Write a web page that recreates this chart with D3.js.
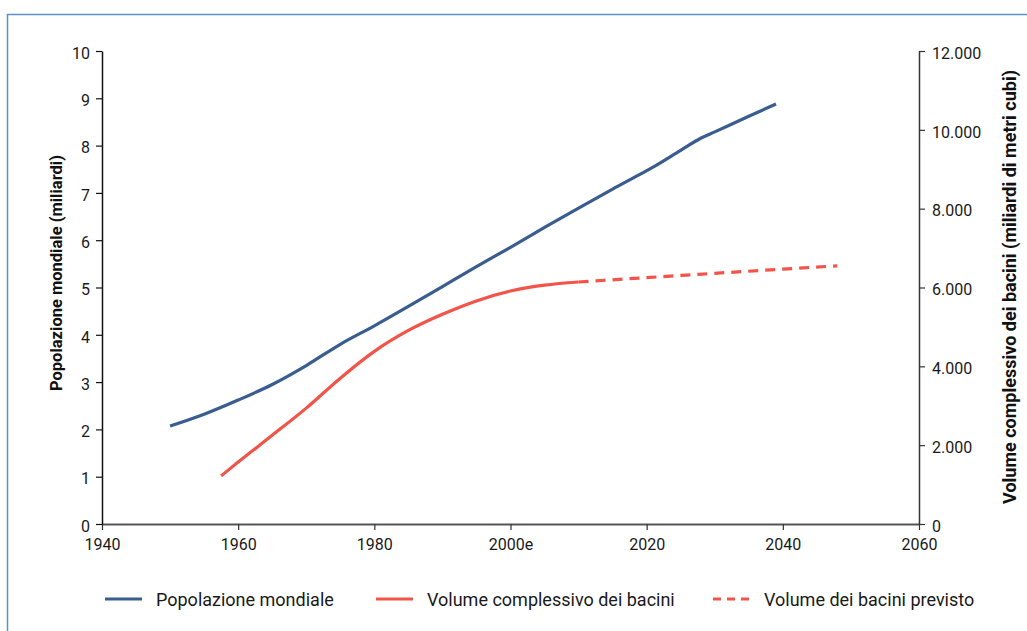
<!DOCTYPE html>
<html><head><meta charset="utf-8">
<script src="https://cdn.jsdelivr.net/npm/d3@7"></script>
<style>
body{margin:0;background:#fff;}
svg{display:block;font-family:Roboto,"Noto Sans",sans-serif;}
</style></head>
<body><svg id="c" width="1027" height="631"></svg>
<script>
const popYears = [1950,1955,1960,1965,1970,1975,1980,1985,1990,1995,2000,2005,2010,2015,2020,2021,2025,2028,2030,2035,2039];
const popValues = [2.07,2.32,2.62,2.95,3.35,3.8,4.19,4.6,5.02,5.44,5.85,6.27,6.68,7.08,7.47,7.55,7.9,8.16,8.29,8.62,8.88];
const volYears = [1957.5,1960,1965,1970,1975,1980,1985,1990,1995,2000,2005,2010];
const volValues = [1220,1570,2250,2940,3700,4380,4910,5320,5660,5910,6060,6140];
const forecastYears = [2010,2030,2048];
const forecastValues = [6140,6360,6550];
const xTicks = [1940,1960,1980,2000,2020,2040,2060];
const xTickLabels = ["1940","1960","1980","2000e","2020","2040","2060"];
const leftTicks = [0,1,2,3,4,5,6,7,8,9,10];
const rightTicks = [0,2000,4000,6000,8000,10000,12000];
const legendLabels = ["Popolazione mondiale","Volume complessivo dei bacini","Volume dei bacini previsto"];

const blue = "#3a5d8f", red = "#f25449";
const svg = d3.select("#c");
svg.append("rect").attr("x",7.5).attr("y",14.5).attr("width",1100).attr("height",700)
  .attr("fill","none").attr("stroke","#5b93c6").attr("stroke-width",1.5);

const x = d3.scaleLinear().domain([1940,2060]).range([102,919]);
const yL = d3.scaleLinear().domain([0,10]).range([524,51]);
const yR = d3.scaleLinear().domain([0,12000]).range([524,51]);

const fmtR = d => d===0 ? "0" : d3.format(",")(d).replace(/,/g,".");

function styleAxis(g, dy){
  g.attr("font-size",null).attr("font-family",null);
  g.selectAll("text").style("font-size","16px").style("fill","#1a1a1a").style("font-family","Roboto, sans-serif");
  if (dy) g.selectAll("text").attr("dy", dy);
}
const gx = svg.append("g").attr("transform","translate(0,524)")
  .call(d3.axisBottom(x).tickValues(xTicks).tickFormat((d,i)=>xTickLabels[i]).tickSize(6).tickSizeOuter(0).tickPadding(9));
gx.select(".domain").attr("stroke","#555").attr("stroke-width",2);
gx.selectAll(".tick line").attr("stroke","#333").attr("stroke-width",1.2);
styleAxis(gx);

const gl = svg.append("g").attr("transform","translate(102,0)")
  .call(d3.axisLeft(yL).tickValues(leftTicks).tickSize(6).tickSizeOuter(0).tickPadding(6));
gl.select(".domain").attr("stroke","#111").attr("stroke-width",1.5);
gl.selectAll(".tick line").attr("stroke","#111").attr("stroke-width",1.2);
styleAxis(gl, "0.45em");

const gr = svg.append("g").attr("transform","translate(919,0)")
  .call(d3.axisRight(yR).tickValues(rightTicks).tickFormat(fmtR).tickSize(6).tickSizeOuter(0).tickPadding(7));
gr.select(".domain").attr("stroke","#333").attr("stroke-width",1.5);
gr.selectAll(".tick line").attr("stroke","#333").attr("stroke-width",1.2);
styleAxis(gr, "0.45em");

svg.append("text").attr("transform","translate(62,273) rotate(-90)").attr("text-anchor","middle")
  .attr("font-size",16.5).attr("font-weight","bold").attr("fill","#111").text("Popolazione mondiale (miliardi)");
svg.append("text").attr("transform","translate(1016,287) rotate(-90)").attr("text-anchor","middle")
  .attr("font-size",18).attr("font-weight","bold").attr("fill","#111").text("Volume complessivo dei bacini (miliardi di metri cubi)");

const popData = popYears.map((y,i)=>[y,popValues[i]]);
const volData = volYears.map((y,i)=>[y,volValues[i]]);
const fcData = forecastYears.map((y,i)=>[y,forecastValues[i]]);

svg.append("path").datum(popData).attr("fill","none").attr("stroke",blue).attr("stroke-width",3.2)
  .attr("d",d3.line().x(d=>x(d[0])).y(d=>yL(d[1])).curve(d3.curveMonotoneX));
svg.append("path").datum(volData).attr("fill","none").attr("stroke",red).attr("stroke-width",3.2)
  .attr("d",d3.line().x(d=>x(d[0])).y(d=>yR(d[1])).curve(d3.curveMonotoneX));
svg.append("path").datum(fcData).attr("fill","none").attr("stroke",red).attr("stroke-width",3.2)
  .attr("stroke-dasharray","10,7")
  .attr("d",d3.line().x(d=>x(d[0])).y(d=>yR(d[1])).curve(d3.curveMonotoneX));

const legX = [105,376,713];
const legStyles = [[blue,null],[red,null],[red,"8,6"]];
legendLabels.forEach((t,i)=>{
  svg.append("line").attr("x1",legX[i]).attr("x2",legX[i]+37).attr("y1",599).attr("y2",599)
    .attr("stroke",legStyles[i][0]).attr("stroke-width",3).attr("stroke-dasharray",legStyles[i][1]);
  svg.append("text").attr("x",legX[i]+51).attr("y",605.5).attr("font-size",18).attr("fill","#1a1a1a").text(t);
});
</script></body></html>
